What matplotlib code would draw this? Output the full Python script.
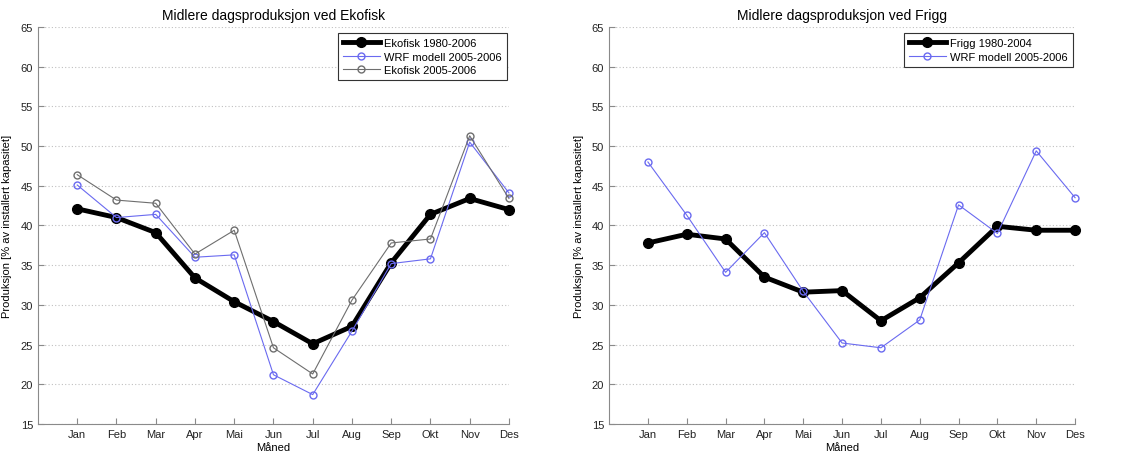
import numpy as np
import matplotlib
matplotlib.use("Agg")
import matplotlib.pyplot as plt

plt.rcParams['font.family'] = ['Liberation Sans', 'DejaVu Sans']

months = ['Jan', 'Feb', 'Mar', 'Apr', 'Mai', 'Jun', 'Jul', 'Aug', 'Sep', 'Okt', 'Nov', 'Des']

# Ekofisk
ekofisk_long = [42.1, 41.0, 39.1, 33.4, 30.4, 27.9, 25.1, 27.3, 35.3, 41.4, 43.4, 42.0]
ekofisk_wrf = [45.1, 41.0, 41.4, 36.0, 36.3, 21.2, 18.7, 26.7, 35.2, 35.8, 50.5, 44.1]
ekofisk_short = [46.4, 43.2, 42.8, 36.4, 39.4, 24.6, 21.3, 30.6, 37.8, 38.3, 51.3, 43.4]

# Frigg
frigg_long = [37.8, 38.9, 38.3, 33.5, 31.6, 31.8, 28.0, 30.9, 35.3, 39.9, 39.4, 39.4]
frigg_wrf = [48.0, 41.3, 34.1, 39.1, 31.7, 25.2, 24.6, 28.1, 42.6, 39.0, 49.4, 43.5]

blue = '#6a6af0'
gray = '#6e6e6e'
x = np.arange(1, 13)


def style_axis(ax, title):
    ax.set_xlim(0, 12)
    ax.set_ylim(15, 65)
    ax.set_xticks(x)
    ax.set_xticklabels(months)
    ax.set_yticks(np.arange(15, 66, 5))
    ax.yaxis.grid(True, linestyle=(0, (1, 2)), color='#c0c0c0', linewidth=0.8)
    ax.set_axisbelow(True)
    for side in ['top', 'right']:
        ax.spines[side].set_visible(False)
    for side in ['left', 'bottom']:
        ax.spines[side].set_color('#8a8a8a')
    ax.tick_params(direction='in', length=4, color='#8a8a8a', labelsize=8, labelcolor='#222222')
    ax.set_title(title, fontsize=10, pad=6)
    ax.set_xlabel('Måned', fontsize=8, labelpad=2)
    ax.set_ylabel('Produksjon [% av installert kapasitet]', fontsize=8, labelpad=6)


fig = plt.figure(figsize=(11.3, 4.56), dpi=100)
ax1 = fig.add_axes([0.0336, 0.068, 0.4168, 0.8706])
ax2 = fig.add_axes([0.539, 0.068, 0.4124, 0.8706])

ax1.plot(x, ekofisk_long, color='black', lw=3.5, marker='o', ms=7, label='Ekofisk 1980-2006', clip_on=False)
ax1.plot(x, ekofisk_wrf, color=blue, lw=0.8, marker='o', ms=5, mfc='none', label='WRF modell 2005-2006', clip_on=False)
ax1.plot(x, ekofisk_short, color=gray, lw=0.8, marker='o', ms=5, mfc='none', label='Ekofisk 2005-2006', clip_on=False)
style_axis(ax1, 'Midlere dagsproduksjon ved Ekofisk')

ax2.plot(x, frigg_long, color='black', lw=3.5, marker='o', ms=7, label='Frigg 1980-2004', clip_on=False)
ax2.plot(x, frigg_wrf, color=blue, lw=0.8, marker='o', ms=5, mfc='none', label='WRF modell 2005-2006', clip_on=False)
style_axis(ax2, 'Midlere dagsproduksjon ved Frigg')

for ax in (ax1, ax2):
    leg = ax.legend(loc='upper right', fontsize=8, fancybox=False, framealpha=1,
                    handlelength=3.3, handletextpad=0.4, borderpad=0.45, labelspacing=0.3,
                    borderaxespad=0.2, bbox_to_anchor=(1.0, 0.99))
    leg.get_frame().set_edgecolor('#333333')
    leg.get_frame().set_linewidth(0.8)

fig.savefig('out.png', dpi=100)
